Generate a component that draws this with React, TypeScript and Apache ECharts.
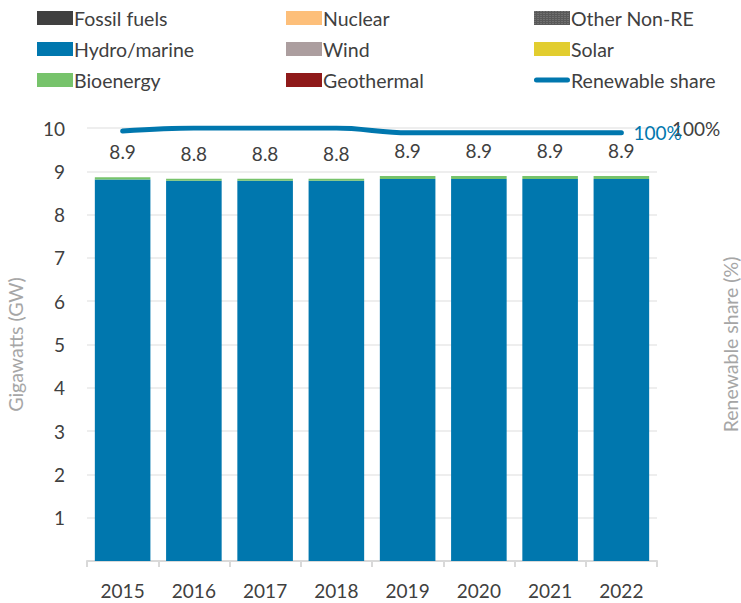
import React, { useEffect, useRef } from "react";
import * as echarts from "echarts";

const years = ["2015", "2016", "2017", "2018", "2019", "2020", "2021", "2022"];
const fossil = [0, 0, 0, 0, 0, 0, 0, 0];
const nuclear = [0, 0, 0, 0, 0, 0, 0, 0];
const otherNonRE = [0, 0, 0, 0, 0, 0, 0, 0];
const hydro = [8.81, 8.78, 8.78, 8.78, 8.82, 8.82, 8.82, 8.82];
const wind = [0, 0, 0, 0, 0, 0, 0, 0];
const solar = [0, 0, 0, 0, 0, 0, 0, 0];
const bioenergy = [0.05, 0.05, 0.05, 0.05, 0.07, 0.07, 0.07, 0.07];
const geothermal = [0, 0, 0, 0, 0, 0, 0, 0];
const renewableShare = [99.72, 100, 100, 100, 99.55, 99.55, 99.55, 99.55];
const leftTicks = [0, 1, 2, 3, 4, 5, 6, 7, 8, 9, 10];
const rightTicks = [60, 100];

const FONT = "Lato";
const TEXT = "#404040";
const BLUE = "#0077ae";

export default function App() {
  const ref = useRef<HTMLDivElement>(null);
  useEffect(() => {
    document.body.style.margin = "0";
    const chart = echarts.init(ref.current!, null, { renderer: "svg" });
    const totals = years.map(
      (_, i) =>
        fossil[i] + nuclear[i] + otherNonRE[i] + hydro[i] + wind[i] + solar[i] + bioenergy[i] + geothermal[i]
    );
    const barSeries = (name: string, data: number[], color: string, extra: any = {}) => ({
      name,
      type: "bar",
      stack: "gen",
      data,
      barCategoryGap: "22%",
      itemStyle: { color, ...extra },
    });
    const legendCommon = {
      orient: "vertical",
      top: 3,
      itemWidth: 36,
      itemHeight: 14,
      itemGap: 11,
      textStyle: { fontFamily: FONT, fontSize: 19.5, color: TEXT, lineHeight: 20, padding: [0, 0, 0, -4] },
    };
    const r = (name: string) => ({ name, icon: "rect" });
    chart.setOption({
      animation: false,
      textStyle: { fontFamily: FONT },
      legend: [
        { ...legendCommon, left: 32, data: [r("Fossil fuels"), r("Hydro/marine"), r("Bioenergy")] },
        { ...legendCommon, left: 281, data: [r("Nuclear"), r("Wind"), r("Geothermal")] },
        {
          ...legendCommon,
          left: 529,
          data: [
            r("Other Non-RE"),
            r("Solar"),
            {
              name: "Renewable share",
              icon: "path://M2.5,0 H33.5 A2.5,2.5 0 0 1 33.5,5 H2.5 A2.5,2.5 0 0 1 2.5,0 Z",
              itemStyle: { color: BLUE },
            },
          ],
        },
      ],
      grid: { left: 87, right: 84, top: 128, bottom: 42, containLabel: false, outerBoundsMode: "none" },
      xAxis: {
        type: "category",
        data: years,
        axisLine: { lineStyle: { color: "#d9d9d9", width: 2 } },
        axisTick: { show: true, length: 6, lineStyle: { color: "#d9d9d9", width: 2 } },
        axisLabel: { fontSize: 19, color: TEXT, margin: 20, fontFamily: FONT },
      },
      yAxis: [
        {
          type: "value",
          min: leftTicks[0],
          max: leftTicks[leftTicks.length - 1],
          interval: 1,
          name: "Gigawatts (GW)",
          nameLocation: "middle",
          nameGap: 62,
          nameMoveOverlap: false,
          nameTextStyle: { color: "#a6a6a6", fontSize: 19.5, fontFamily: FONT },
          axisLine: { show: false },
          axisTick: { show: false },
          axisLabel: {
            fontSize: 19,
            color: TEXT,
            margin: 22,
            fontFamily: FONT,
            formatter: (v: number) => (v === 0 ? "" : String(v)),
          },
          splitLine: { lineStyle: { color: "#eeeeee", width: 2 } },
        },
        {
          type: "value",
          min: rightTicks[0],
          max: rightTicks[1],
          interval: rightTicks[1] - rightTicks[0],
          name: "Renewable share (%)",
          nameLocation: "middle",
          nameGap: 63,
          nameMoveOverlap: false,
          nameTextStyle: { color: "#a6a6a6", fontSize: 19.5, fontFamily: FONT },
          axisLine: { show: false },
          axisTick: { show: false },
          splitLine: { show: false },
          axisLabel: {
            fontSize: 19,
            color: TEXT,
            margin: 15,
            fontFamily: FONT,
            formatter: (v: number) => (v === rightTicks[1] ? v + "%" : ""),
          },
        },
      ],
      series: [
        barSeries("Fossil fuels", fossil, "#404040"),
        barSeries("Nuclear", nuclear, "#fdbf7a"),
        barSeries("Other Non-RE", otherNonRE, "#595959", {
          decal: {
            symbol: "rect",
            symbolSize: 0.6,
            color: "rgba(255,255,255,0.45)",
            dashArrayX: [2, 1],
            dashArrayY: [1, 1],
          },
        }),
        barSeries("Hydro/marine", hydro, BLUE),
        barSeries("Wind", wind, "#ac9e9f"),
        barSeries("Solar", solar, "#e2cd2f"),
        barSeries("Bioenergy", bioenergy, "#77c36b"),
        barSeries("Geothermal", geothermal, "#8f1a1a"),
        {
          name: "Total",
          type: "bar",
          stack: "gen",
          data: years.map(() => 0),
          itemStyle: { color: "transparent" },
          label: {
            show: true,
            position: "top",
            distance: 16,
            fontSize: 19,
            color: TEXT,
            fontFamily: FONT,
            formatter: (p: any) => totals[p.dataIndex].toFixed(1),
          },
        },
        {
          name: "Renewable share",
          type: "line",
          yAxisIndex: 1,
          data: renewableShare,
          smooth: 0.35,
          symbol: "none",
          lineStyle: { color: BLUE, width: 5, cap: "round" },
          itemStyle: { color: BLUE },
          z: 5,
          endLabel: {
            show: true,
            distance: 12,
            fontSize: 19,
            color: BLUE,
            fontFamily: FONT,
            formatter: (p: any) => Math.round(p.value) + "%",
          },
        },
      ],
    });
    return () => chart.dispose();
  }, []);
  return <div ref={ref} style={{ width: 741, height: 603 }} />;
}
